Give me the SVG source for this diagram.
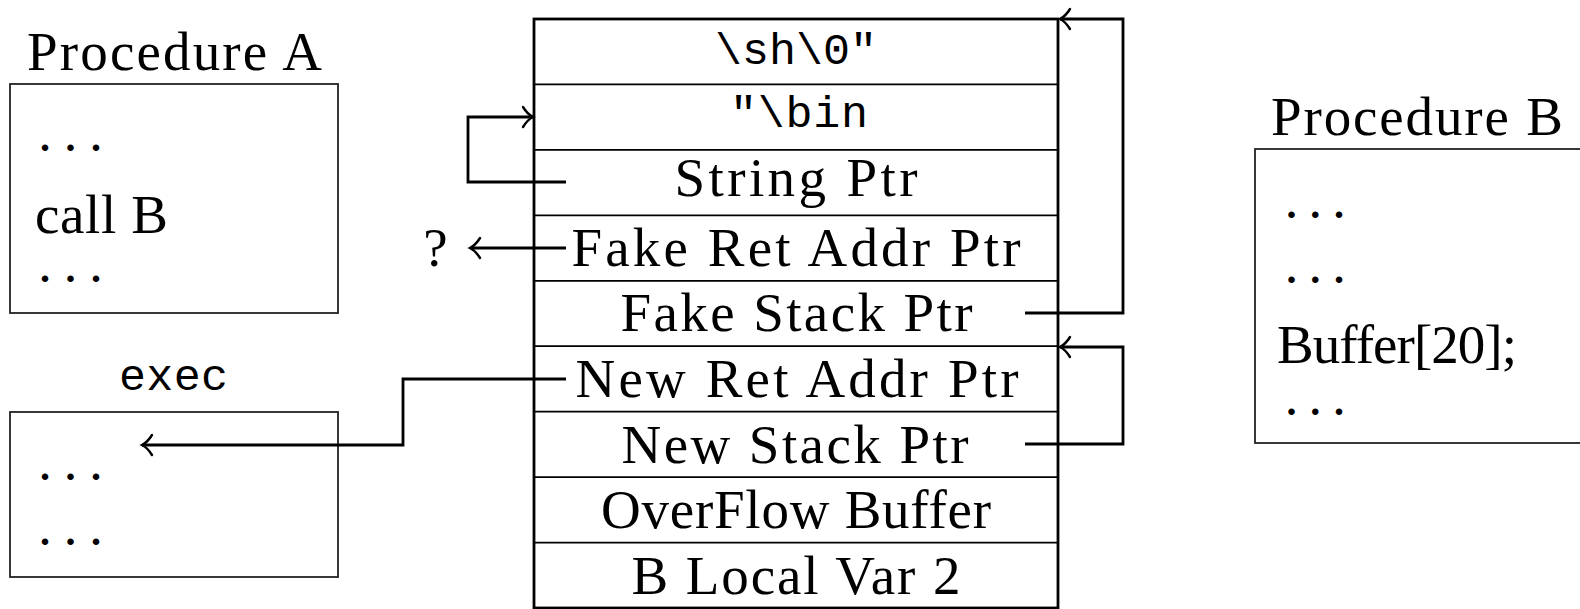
<svg xmlns="http://www.w3.org/2000/svg" width="1580" height="609" viewBox="0 0 1580 609">
<style>
.bg{fill:#fff}
.box{fill:none;stroke:#222;stroke-width:1.8}
.outer{fill:none;stroke:#000;stroke-width:2.8}
.row{stroke:#000;stroke-width:1.8}
.conn{fill:none;stroke:#000;stroke-width:2.8}
.t{font-family:"Liberation Serif","Times New Roman",serif;font-size:55px;fill:#000}
.m{font-family:"Liberation Mono","Courier New",monospace;font-size:45px;fill:#000}
.c{text-anchor:middle}
.dots{font-family:"Liberation Serif","Times New Roman",serif;font-size:40px;font-weight:bold;fill:#000}
</style>
<defs>
<marker id="arr" markerUnits="userSpaceOnUse" viewBox="-13 -13 16 26" markerWidth="16" markerHeight="26" refX="0" refY="0" orient="auto" overflow="visible">
<path d="M -10 -10 C -6 -3.5, -2 -1, 0 0 C -2 1, -6 3.5, -10 10" fill="none" stroke="#000" stroke-width="2.4" stroke-linecap="round"/>
</marker>
</defs>
<rect class="bg" x="0" y="0" width="1580" height="609"/>

<g id="procA">
<text class="t c" x="174.5" y="70" textLength="295" lengthAdjust="spacing">Procedure A</text>
<rect class="box" x="10" y="84" width="328" height="229"/>
<text class="dots" x="40" y="151" letter-spacing="15.5">...</text>
<text class="t" x="35" y="233" textLength="133" lengthAdjust="spacing">call B</text>
<text class="dots" x="40" y="282" letter-spacing="15.5">...</text>
</g>

<g id="exec">
<text class="m c" x="173.5" y="390" textLength="109" lengthAdjust="spacing">exec</text>
<rect class="box" x="10" y="412" width="328" height="165"/>
<text class="dots" x="40" y="480" letter-spacing="15.5">...</text>
<text class="dots" x="40" y="545" letter-spacing="15.5">...</text>
</g>

<g id="procB">
<text class="t" x="1271" y="135" textLength="292" lengthAdjust="spacing">Procedure B</text>
<rect class="box" x="1255" y="149" width="340" height="294"/>
<text class="dots" x="1286.5" y="218" letter-spacing="13.7">...</text>
<text class="dots" x="1286.5" y="283" letter-spacing="13.7">...</text>
<text class="t" x="1277" y="363" textLength="240" lengthAdjust="spacing">Buffer[20];</text>
<text class="dots" x="1286.5" y="415" letter-spacing="13.7">...</text>
</g>

<g id="stack">
<rect class="outer" x="534" y="19" width="524" height="589"/>
<line class="row" x1="534" y1="84.4" x2="1058" y2="84.4"/>
<line class="row" x1="534" y1="149.9" x2="1058" y2="149.9"/>
<line class="row" x1="534" y1="215.3" x2="1058" y2="215.3"/>
<line class="row" x1="534" y1="280.8" x2="1058" y2="280.8"/>
<line class="row" x1="534" y1="346.2" x2="1058" y2="346.2"/>
<line class="row" x1="534" y1="411.7" x2="1058" y2="411.7"/>
<line class="row" x1="534" y1="477.1" x2="1058" y2="477.1"/>
<line class="row" x1="534" y1="542.6" x2="1058" y2="542.6"/>
</g>
<g id="row-sh0"><text class="m c" x="796" y="64" textLength="162" lengthAdjust="spacing">\sh\0"</text></g>
<g id="row-bin"><text class="m c" x="799" y="127" textLength="138" lengthAdjust="spacing">"\bin</text></g>
<g id="row-string-ptr"><text class="t c" x="796" y="196" textLength="243" lengthAdjust="spacing">String Ptr</text></g>
<g id="row-fake-ret"><text class="t c" x="796" y="266" textLength="449" lengthAdjust="spacing">Fake Ret Addr Ptr</text></g>
<g id="row-fake-stack"><text class="t c" x="796.5" y="331" textLength="352" lengthAdjust="spacing">Fake Stack Ptr</text></g>
<g id="row-new-ret"><text class="t c" x="797" y="397" textLength="443" lengthAdjust="spacing">New Ret Addr Ptr</text></g>
<g id="row-new-stack"><text class="t c" x="795" y="463" textLength="347" lengthAdjust="spacing">New Stack Ptr</text></g>
<g id="row-overflow"><text class="t c" x="796" y="528" textLength="390" lengthAdjust="spacing">OverFlow Buffer</text></g>
<g id="row-blocal"><text class="t c" x="796" y="594" textLength="329" lengthAdjust="spacing">B Local Var 2</text></g>

<g id="unknown"><text class="t c" x="435.5" y="266">?</text></g>

<g id="connectors">
<path class="conn" d="M 566 182 H 468 V 117 H 533" marker-end="url(#arr)"/>
<path class="conn" d="M 566 248 H 470" marker-end="url(#arr)"/>
<path class="conn" d="M 566 379 H 403 V 445 H 142" marker-end="url(#arr)"/>
<path class="conn" d="M 1025 313 H 1123 V 19 H 1060" marker-end="url(#arr)"/>
<path class="conn" d="M 1025 444 H 1123 V 347 H 1060" marker-end="url(#arr)"/>
</g>
</svg>
